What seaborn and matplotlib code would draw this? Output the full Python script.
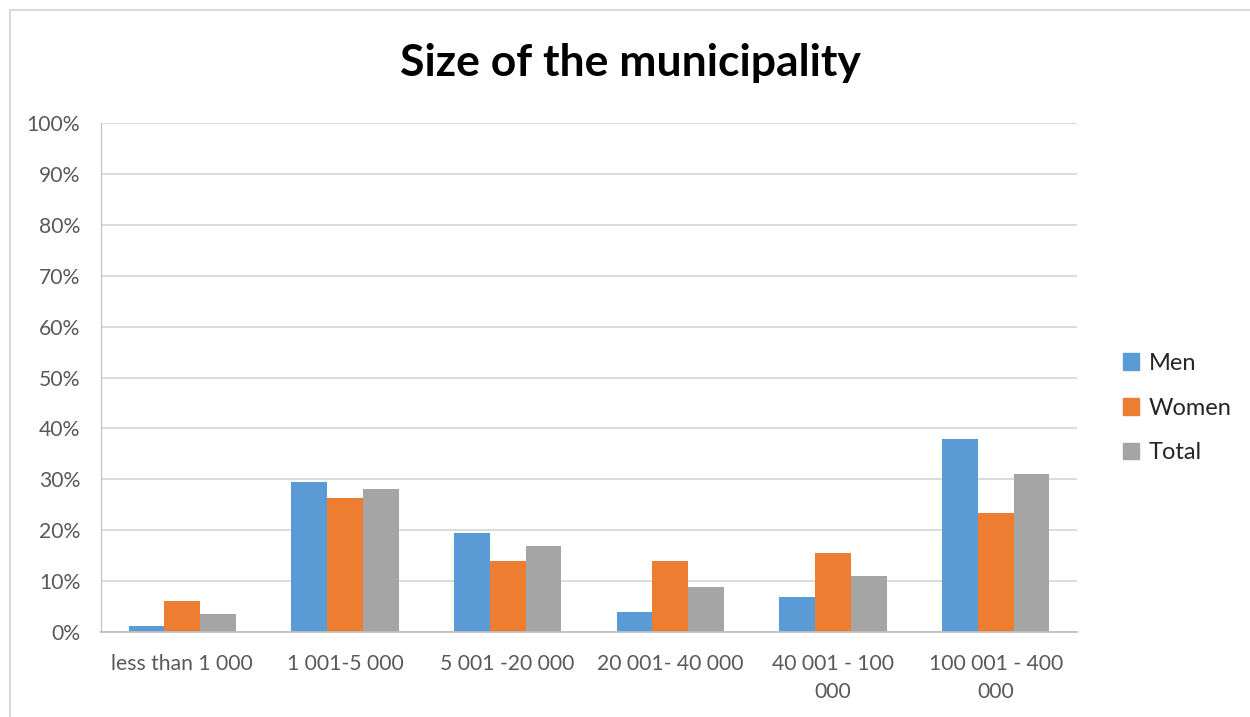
import pandas as pd
import seaborn as sns
import matplotlib.pyplot as plt
from matplotlib.lines import Line2D
from matplotlib.ticker import PercentFormatter

categories = ["less than 1 000", "1 001-5 000", "5 001 -20 000", "20 001- 40 000",
              "40 001 - 100\n000", "100 001 - 400\n000"]
men = [1.1, 29.5, 19.5, 4.0, 6.9, 38.0]
women = [6.1, 26.4, 13.9, 13.9, 15.5, 23.4]
total = [3.6, 28.1, 16.9, 8.75, 11.0, 31.1]
series = ["Men", "Women", "Total"]
colors = ["#5b9bd5", "#ed7d31", "#a5a5a5"]

df = pd.DataFrame({"category": categories, "Men": men, "Women": women, "Total": total})
long = df.melt(id_vars="category", var_name="group", value_name="pct")

sns.set_theme(style="white")
plt.rcParams['font.family'] = ['Lato', 'DejaVu Sans']

fig = plt.figure(figsize=(12.5, 7.17), dpi=100)
ax = fig.add_axes([0.0808, 0.1185, 0.7808, 0.71])

sns.barplot(data=long, x="category", y="pct", hue="group", hue_order=series,
            palette=colors, width=0.66, saturation=1, edgecolor="none", ax=ax)

ax.set_ylim(0, 100)
ax.set_yticks(range(0, 101, 10))
ax.yaxis.set_major_formatter(PercentFormatter(decimals=0))
ax.grid(axis="y", color="#d9d9d9", linewidth=1.3)
ax.set_axisbelow(True)
ax.set_xlabel("")
ax.set_ylabel("")
ax.tick_params(axis="both", colors="#595959", labelsize=15.2, length=0)
ax.tick_params(axis="x", pad=16)
ax.tick_params(axis="y", pad=15)
for lbl in ax.get_xticklabels():
    lbl.set_linespacing(1.5)
for s in ["top", "right"]:
    ax.spines[s].set_visible(False)
ax.spines["bottom"].set_color("#bfbfbf")
ax.spines["bottom"].set_linewidth(1.3)
ax.spines["left"].set_color("#bfbfbf")
ax.spines["left"].set_linewidth(0.8)

handles = [plt.Rectangle((0, 0), 1, 1, color=c) for c in colors]
ax.legend(handles, series, loc="center left", bbox_to_anchor=(1.025, 0.44),
          frameon=False, fontsize=17, handlelength=0.7, handleheight=0.7,
          handletextpad=0.4, labelspacing=1.0)

fig.text(0.504, 0.912, "Size of the municipality", ha="center", va="center",
         fontsize=32, fontweight="bold", color="black")

# chart border (partly off the image, as in the screenshot)
fig.add_artist(Line2D([0.008, 0.008], [0, 0.986], color="#d9d9d9", linewidth=1.5))
fig.add_artist(Line2D([0.008, 1], [0.986, 0.986], color="#d9d9d9", linewidth=1.5))

fig.savefig("out.png", dpi=100)
